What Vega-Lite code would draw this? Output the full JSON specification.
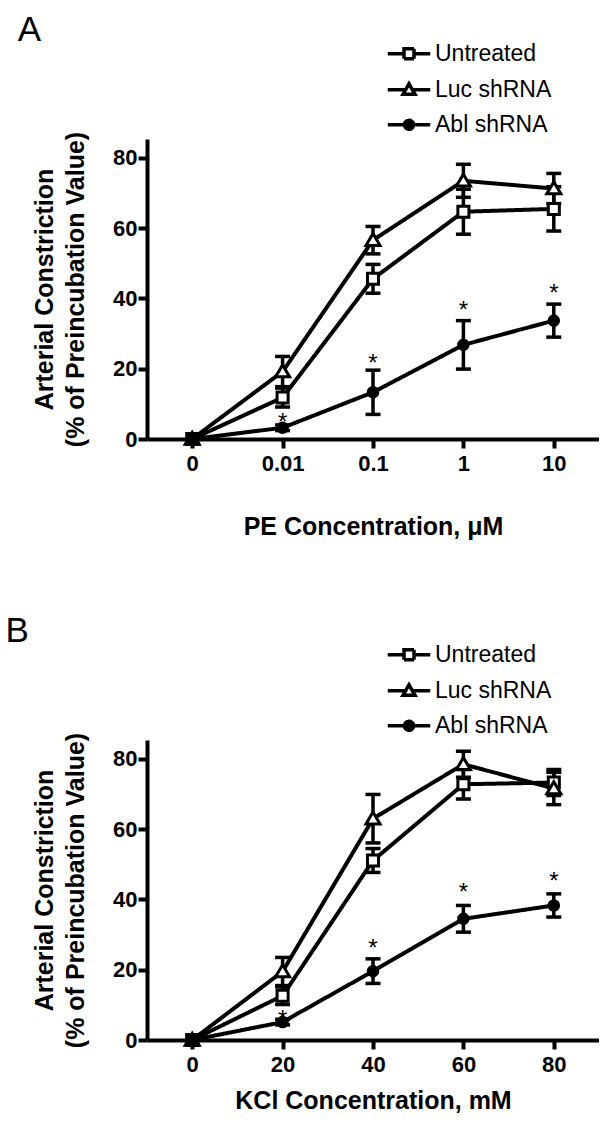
{
  "$schema": "https://vega.github.io/schema/vega-lite/v6.json",
  "background": "white",
  "padding": {"left": 5, "top": 13, "right": 0, "bottom": 0},
  "datasets": {
    "pts": [
      {"panel": "A", "group": "Untreated", "conc": "0", "value": 0, "lo": null, "hi": null, "star": null},
      {"panel": "A", "group": "Untreated", "conc": "0.01", "value": 11.8, "lo": 9.1, "hi": 14.5, "star": null},
      {"panel": "A", "group": "Untreated", "conc": "0.1", "value": 45.6, "lo": 41.5, "hi": 49.7, "star": null},
      {"panel": "A", "group": "Untreated", "conc": "1", "value": 64.7, "lo": 58.3, "hi": 71.1, "star": null},
      {"panel": "A", "group": "Untreated", "conc": "10", "value": 65.5, "lo": 59.2, "hi": 71.8, "star": null},
      {"panel": "A", "group": "Luc shRNA", "conc": "0", "value": 0, "lo": null, "hi": null, "star": null},
      {"panel": "A", "group": "Luc shRNA", "conc": "0.01", "value": 19.2, "lo": 14.9, "hi": 23.5, "star": null},
      {"panel": "A", "group": "Luc shRNA", "conc": "0.1", "value": 56.6, "lo": 52.7, "hi": 60.5, "star": null},
      {"panel": "A", "group": "Luc shRNA", "conc": "1", "value": 73.5, "lo": 68.8, "hi": 78.2, "star": null},
      {"panel": "A", "group": "Luc shRNA", "conc": "10", "value": 71.3, "lo": 67.0, "hi": 75.6, "star": null},
      {"panel": "A", "group": "Abl shRNA", "conc": "0", "value": 0, "lo": null, "hi": null, "star": null},
      {"panel": "A", "group": "Abl shRNA", "conc": "0.01", "value": 3.2, "lo": 2.4, "hi": 4.0, "star": 6.6},
      {"panel": "A", "group": "Abl shRNA", "conc": "0.1", "value": 13.3, "lo": 7.0, "hi": 19.6, "star": 23.4},
      {"panel": "A", "group": "Abl shRNA", "conc": "1", "value": 26.8, "lo": 19.9, "hi": 33.7, "star": 38.3},
      {"panel": "A", "group": "Abl shRNA", "conc": "10", "value": 33.7, "lo": 29.0, "hi": 38.4, "star": 43.4},
      {"panel": "B", "group": "Untreated", "conc": "0", "value": 0, "lo": null, "hi": null, "star": null},
      {"panel": "B", "group": "Untreated", "conc": "20", "value": 12.6, "lo": 10.1, "hi": 15.1, "star": null},
      {"panel": "B", "group": "Untreated", "conc": "40", "value": 51.1, "lo": 47.7, "hi": 54.5, "star": null},
      {"panel": "B", "group": "Untreated", "conc": "60", "value": 72.8, "lo": 68.6, "hi": 77.0, "star": null},
      {"panel": "B", "group": "Untreated", "conc": "80", "value": 73.3, "lo": 69.6, "hi": 77.0, "star": null},
      {"panel": "B", "group": "Luc shRNA", "conc": "0", "value": 0, "lo": null, "hi": null, "star": null},
      {"panel": "B", "group": "Luc shRNA", "conc": "20", "value": 19.5, "lo": 15.5, "hi": 23.5, "star": null},
      {"panel": "B", "group": "Luc shRNA", "conc": "40", "value": 63.0, "lo": 56.1, "hi": 69.9, "star": null},
      {"panel": "B", "group": "Luc shRNA", "conc": "60", "value": 78.5, "lo": 74.8, "hi": 82.2, "star": null},
      {"panel": "B", "group": "Luc shRNA", "conc": "80", "value": 71.6, "lo": 67.0, "hi": 76.2, "star": null},
      {"panel": "B", "group": "Abl shRNA", "conc": "0", "value": 0, "lo": null, "hi": null, "star": null},
      {"panel": "B", "group": "Abl shRNA", "conc": "20", "value": 5.1, "lo": 4.3, "hi": 5.9, "star": 7.8},
      {"panel": "B", "group": "Abl shRNA", "conc": "40", "value": 19.6, "lo": 16.1, "hi": 23.1, "star": 27.8},
      {"panel": "B", "group": "Abl shRNA", "conc": "60", "value": 34.5, "lo": 30.7, "hi": 38.3, "star": 43.8},
      {"panel": "B", "group": "Abl shRNA", "conc": "80", "value": 38.3, "lo": 35.0, "hi": 41.6, "star": 47.1}
    ]
  },
  "config": {
    "view": {"stroke": null},
    "font": "Liberation Sans",
    "tick": {"opacity": 1},
    "axis": {
      "grid": false,
      "domainColor": "black",
      "domainWidth": 4,
      "tickColor": "black",
      "tickWidth": 4,
      "tickSize": 9,
      "labelColor": "black",
      "labelFont": "Liberation Sans",
      "labelFontSize": 22,
      "labelFontWeight": "bold",
      "titleColor": "black",
      "titleFont": "Liberation Sans",
      "titleFontSize": 25,
      "titleFontWeight": "bold"
    },
    "axisX": {"labelPadding": 5, "labelAngle": 0},
    "axisY": {"labelPadding": 1, "titlePadding": 24, "titleLineHeight": 31},
    "legend": {"orient": "none", "title": null, "padding": 0, "symbolSize": 400, "labelFontSize": 23, "labelFont": "Liberation Sans", "labelColor": "black", "labelOffset": 14, "rowPadding": 11, "labelLimit": 300, "symbolStrokeWidth": 3.5, "symbolStrokeColor": "black"}
  },
  "spacing": 301,
  "bounds": "flush",
  "resolve": {
    "scale": {"x": "independent", "y": "independent", "strokeDash": "independent"},
    "legend": {"strokeDash": "independent"}
  },
  "vconcat": [
    {
      "width": 452,
      "height": 300,
      "title": {"text": "A", "anchor": "start", "frame": "group", "fontSize": 35, "fontWeight": "normal", "font": "Liberation Sans", "color": "black", "dx": -129.3, "offset": -34.6, "baseline": "alphabetic"},
      "data": {"name": "pts"},
      "transform": [{"filter": {"field": "panel", "equal": "A"}}],
      "encoding": {
        "x": {"field": "conc", "type": "ordinal", "sort": ["0", "0.01", "0.1", "1", "10"], "scale": {"type": "point", "padding": 0.5}, "axis": {"title": "PE Concentration, \u03bcM", "titlePadding": 40}},
        "y": {"field": "value", "type": "quantitative", "scale": {"domain": [0, 85.4], "nice": false}, "axis": {"values": [0, 20, 40, 60, 80], "title": ["Arterial Constriction", "(% of Preincubation Value)"]}}
      },
      "layer": [
        {
          "mark": {"type": "line", "color": "black", "strokeWidth": 4},
          "encoding": {
            "strokeDash": {"field": "group", "type": "nominal", "scale": {"domain": ["Untreated", "Luc shRNA", "Abl shRNA"], "range": [[1, 0], [1, 0], [1, 0]]},
              "legend": {"orient": "none", "legendX": 250, "legendY": -97.2,
                "encode": {"symbols": {"update": {
                  "shape": {"signal": "datum.value === 'Untreated' ? 'M-2.125,0H-0.5M0.5,0H2.125M-0.5,-0.5H0.5V0.5H-0.5Z' : datum.value === 'Luc shRNA' ? 'M-2.125,0H-0.34M0.34,0H2.125M0,-0.6L0.6,0.45H-0.6Z' : 'M-2.125,0H2.125M0.45,0A0.45,0.45 0 1,1 -0.45,0A0.45,0.45 0 1,1 0.45,0Z'"},
                  "fill": {"signal": "datum.value === 'Abl shRNA' ? 'black' : 'white'"},
                  "stroke": {"value": "black"},
                  "strokeWidth": {"value": 3.5},
                  "size": {"value": 400},
                  "opacity": {"value": 1}
                }}}}}
          }
        },
        {
          "mark": {"type": "errorbar", "color": "black", "thickness": 3.5, "ticks": {"size": 15, "thickness": 3.5, "color": "black", "opacity": 1}, "rule": {"strokeWidth": 3.5, "color": "black"}},
          "encoding": {"y": {"field": "lo", "type": "quantitative"}, "y2": {"field": "hi"}}
        },
        {
          "transform": [{"filter": {"field": "group", "equal": "Untreated"}}],
          "mark": {"type": "point", "shape": "M-0.79,-0.79H0.79V0.79H-0.79Z", "size": 196, "filled": true, "fill": "white", "stroke": "black", "strokeWidth": 3, "opacity": 1},
          "encoding": {}
        },
        {
          "transform": [{"filter": {"field": "group", "equal": "Luc shRNA"}}],
          "mark": {"type": "point", "shape": "M0,-0.95L1,0.75H-1Z", "size": 196, "filled": true, "fill": "white", "stroke": "black", "strokeWidth": 3, "opacity": 1},
          "encoding": {}
        },
        {
          "transform": [{"filter": {"field": "group", "equal": "Abl shRNA"}}],
          "mark": {"type": "point", "shape": "M0.68,0A0.68,0.68 0 1,1 -0.68,0A0.68,0.68 0 1,1 0.68,0Z", "size": 196, "filled": true, "fill": "black", "stroke": "black", "strokeWidth": 3, "opacity": 1},
          "encoding": {}
        },
        {
          "mark": {"type": "text", "text": "*", "fontSize": 24, "font": "Liberation Sans", "color": "black", "baseline": "alphabetic", "dy": 14},
          "encoding": {"y": {"field": "star", "type": "quantitative"}}
        }
      ]
    },
    {
      "width": 452,
      "height": 300,
      "title": {"text": "B", "anchor": "start", "frame": "group", "fontSize": 35, "fontWeight": "normal", "font": "Liberation Sans", "color": "black", "dx": -141.6, "offset": -34.6, "baseline": "alphabetic"},
      "data": {"name": "pts"},
      "transform": [{"filter": {"field": "panel", "equal": "B"}}],
      "encoding": {
        "x": {"field": "conc", "type": "ordinal", "sort": ["0", "20", "40", "60", "80"], "scale": {"type": "point", "padding": 0.5}, "axis": {"title": "KCl Concentration, mM", "titlePadding": 13}},
        "y": {"field": "value", "type": "quantitative", "scale": {"domain": [0, 85.4], "nice": false}, "axis": {"values": [0, 20, 40, 60, 80], "title": ["Arterial Constriction", "(% of Preincubation Value)"]}}
      },
      "layer": [
        {
          "mark": {"type": "line", "color": "black", "strokeWidth": 4},
          "encoding": {
            "strokeDash": {"field": "group", "type": "nominal", "scale": {"domain": ["Untreated", "Luc shRNA", "Abl shRNA"], "range": [[1, 0], [1, 0], [1, 0]]},
              "legend": {"orient": "none", "legendX": 250, "legendY": -97.2,
                "encode": {"symbols": {"update": {
                  "shape": {"signal": "datum.value === 'Untreated' ? 'M-2.125,0H-0.5M0.5,0H2.125M-0.5,-0.5H0.5V0.5H-0.5Z' : datum.value === 'Luc shRNA' ? 'M-2.125,0H-0.34M0.34,0H2.125M0,-0.6L0.6,0.45H-0.6Z' : 'M-2.125,0H2.125M0.45,0A0.45,0.45 0 1,1 -0.45,0A0.45,0.45 0 1,1 0.45,0Z'"},
                  "fill": {"signal": "datum.value === 'Abl shRNA' ? 'black' : 'white'"},
                  "stroke": {"value": "black"},
                  "strokeWidth": {"value": 3.5},
                  "size": {"value": 400},
                  "opacity": {"value": 1}
                }}}}}
          }
        },
        {
          "mark": {"type": "errorbar", "color": "black", "thickness": 3.5, "ticks": {"size": 15, "thickness": 3.5, "color": "black", "opacity": 1}, "rule": {"strokeWidth": 3.5, "color": "black"}},
          "encoding": {"y": {"field": "lo", "type": "quantitative"}, "y2": {"field": "hi"}}
        },
        {
          "transform": [{"filter": {"field": "group", "equal": "Untreated"}}],
          "mark": {"type": "point", "shape": "M-0.79,-0.79H0.79V0.79H-0.79Z", "size": 196, "filled": true, "fill": "white", "stroke": "black", "strokeWidth": 3, "opacity": 1},
          "encoding": {}
        },
        {
          "transform": [{"filter": {"field": "group", "equal": "Luc shRNA"}}],
          "mark": {"type": "point", "shape": "M0,-0.95L1,0.75H-1Z", "size": 196, "filled": true, "fill": "white", "stroke": "black", "strokeWidth": 3, "opacity": 1},
          "encoding": {}
        },
        {
          "transform": [{"filter": {"field": "group", "equal": "Abl shRNA"}}],
          "mark": {"type": "point", "shape": "M0.68,0A0.68,0.68 0 1,1 -0.68,0A0.68,0.68 0 1,1 0.68,0Z", "size": 196, "filled": true, "fill": "black", "stroke": "black", "strokeWidth": 3, "opacity": 1},
          "encoding": {}
        },
        {
          "mark": {"type": "text", "text": "*", "fontSize": 24, "font": "Liberation Sans", "color": "black", "baseline": "alphabetic", "dy": 14},
          "encoding": {"y": {"field": "star", "type": "quantitative"}}
        }
      ]
    }
  ]
}
